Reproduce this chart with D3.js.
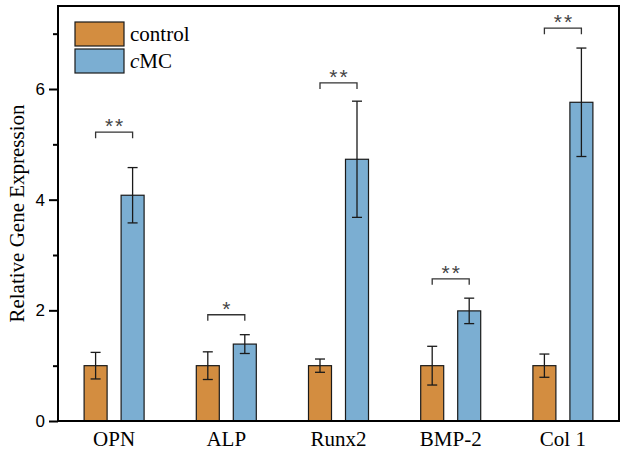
<!DOCTYPE html>
<html><head><meta charset="utf-8">
<script src="https://cdn.jsdelivr.net/npm/d3@7"></script>
<style>body{margin:0;background:#fff}svg{display:block}</style>
</head><body>
<script>
const categories = ["OPN", "ALP", "Runx2", "BMP-2", "Col 1"];
const seriesNames = ["control", "cMC"];
const controlValues = [1.0, 1.0, 1.0, 1.0, 1.0];
const controlErrors = [0.24, 0.25, 0.12, 0.35, 0.21];
const cmcValues = [4.08, 1.39, 4.73, 1.99, 5.76];
const cmcErrors = [0.50, 0.17, 1.05, 0.23, 0.98];
const sigLabels = ["**", "*", "**", "**", "**"];
const sigHeights = [5.22, 1.92, 6.11, 2.57, 7.10];
const yTicks = [0, 2, 4, 6];
const yMinorTicks = [1, 3, 5, 7];

const W = 626, H = 454;
const m = {left: 58, right: 7, top: 6, bottom: 33};
const colors = ["#D38D40", "#7BAED2"];

const svg = d3.select("body").append("svg").attr("width", W).attr("height", H);

const x = d3.scaleBand().domain(categories).range([m.left, W - m.right]).padding(0);
const y = d3.scaleLinear().domain([0, 7.5]).range([H - m.bottom, m.top]);

const bw = 23, off = 7;
const data = categories.map((c, i) => ({
  c, i,
  bars: [
    {s: 0, v: controlValues[i], e: controlErrors[i]},
    {s: 1, v: cmcValues[i], e: cmcErrors[i]}
  ]
}));
function bx(c, s) { const cx = x(c) + x.bandwidth() / 2; return s === 0 ? cx - off - bw : cx + off; }

const g = svg.append("g");
data.forEach(d => {
  d.bars.forEach(b => {
    g.append("rect")
      .attr("x", bx(d.c, b.s)).attr("y", y(b.v))
      .attr("width", bw).attr("height", y(0) - y(b.v))
      .attr("fill", colors[b.s]).attr("stroke", "#1a1a1a").attr("stroke-width", 1.2);
  });
});
// error bars
data.forEach(d => {
  d.bars.forEach(b => {
    const cx = bx(d.c, b.s) + bw / 2;
    const eg = g.append("g").attr("stroke", "#1a1a1a").attr("stroke-width", 1.3);
    eg.append("line").attr("x1", cx).attr("x2", cx).attr("y1", y(b.v + b.e)).attr("y2", y(b.v - b.e));
    eg.append("line").attr("x1", cx - 5).attr("x2", cx + 5).attr("y1", y(b.v + b.e)).attr("y2", y(b.v + b.e));
    eg.append("line").attr("x1", cx - 5).attr("x2", cx + 5).attr("y1", y(b.v - b.e)).attr("y2", y(b.v - b.e));
  });
});
// significance brackets
categories.forEach((c, i) => {
  const x1 = bx(c, 0) + bw / 2, x2 = bx(c, 1) + bw / 2, yy = y(sigHeights[i]);
  g.append("path").attr("d", `M${x1},${yy + 6}V${yy}H${x2}V${yy + 6}`)
    .attr("fill", "none").attr("stroke", "#333").attr("stroke-width", 1.3);
  g.append("text").attr("x", (x1 + x2) / 2 + 1).attr("y", yy + 1)
    .attr("text-anchor", "middle").attr("font-family", "Liberation Sans, Arial, sans-serif")
    .attr("font-size", 21).attr("fill", "#444").attr("letter-spacing", 2).text(sigLabels[i]);
});

// frame
svg.append("rect").attr("x", m.left).attr("y", m.top)
  .attr("width", W - m.right - m.left).attr("height", H - m.bottom - m.top)
  .attr("fill", "none").attr("stroke", "#000").attr("stroke-width", 2);

// y axis
const yAxis = svg.append("g").attr("transform", `translate(${m.left},0)`)
  .call(d3.axisLeft(y).tickValues(yTicks).tickSize(9).tickPadding(4).tickFormat(d3.format("d")));
yAxis.select(".domain").remove();
yAxis.selectAll(".tick line").attr("stroke", "#000").attr("stroke-width", 2);
yAxis.selectAll("text").attr("font-family", "Liberation Sans, Arial, sans-serif").attr("font-size", 17).attr("fill", "#000");
const yMinor = svg.append("g").attr("transform", `translate(${m.left},0)`)
  .call(d3.axisLeft(y).tickValues(yMinorTicks).tickSize(5).tickFormat(""));
yMinor.select(".domain").remove();
yMinor.selectAll(".tick line").attr("stroke", "#000").attr("stroke-width", 2);

// x axis labels
const xAxis = svg.append("g").attr("transform", `translate(0,${H - m.bottom})`)
  .call(d3.axisBottom(x).tickSize(0).tickPadding(10));
xAxis.select(".domain").remove();
xAxis.selectAll("text").attr("font-family", "Liberation Serif, Times New Roman, serif").attr("font-size", 21).attr("fill", "#000");

// y title
svg.append("text").attr("transform", `translate(24,${(m.top + H - m.bottom) / 2}) rotate(-90)`)
  .attr("text-anchor", "middle").attr("font-family", "Liberation Serif, Times New Roman, serif")
  .attr("font-size", 21).attr("fill", "#000").text("Relative Gene Expression");

// legend
const lg = svg.append("g").attr("transform", "translate(75,22)");
seriesNames.forEach((s, i) => {
  const row = lg.append("g").attr("transform", `translate(0,${i * 27})`);
  row.append("rect").attr("width", 49).attr("height", 24).attr("fill", colors[i])
    .attr("stroke", "#1a1a1a").attr("stroke-width", 1.2);
  const t = row.append("text").attr("x", 55).attr("y", 19)
    .attr("font-family", "Liberation Serif, Times New Roman, serif").attr("font-size", 21).attr("fill", "#000");
  if (s === "cMC") {
    t.append("tspan").attr("font-style", "italic").text("c");
    t.append("tspan").text("MC");
  } else t.text(s);
});
</script>
</body></html>
